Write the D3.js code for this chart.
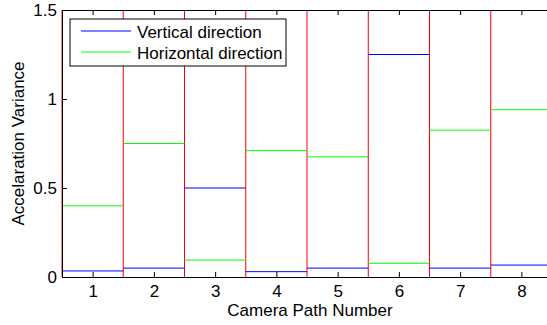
<!DOCTYPE html>
<html>
<head>
<meta charset="utf-8">
<script src="https://cdn.jsdelivr.net/npm/d3@7"></script>
<style>
  body { margin: 0; background: #fff; }
  text { font-family: "Liberation Sans", Arial, sans-serif; }
</style>
</head>
<body>
<div id="chart"></div>
<script>
// data
var paths = [1, 2, 3, 4, 5, 6, 7, 8];
var vertical = [0.034, 0.05, 0.5, 0.03, 0.05, 1.25, 0.05, 0.067];
var horizontal = [0.40, 0.75, 0.095, 0.71, 0.675, 0.077, 0.825, 0.94];
var yTicks = [0, 0.5, 1, 1.5];
var seriesNames = ["Vertical direction", "Horizontal direction"];

var width = 547, height = 325;
var plotLeft = 62, plotTop = 10, plotBottom = 277, plotRight = 552;
var fs = 17;

var x = d3.scaleLinear().domain([0.5, 8.5]).range([plotLeft, plotRight]);
var y = d3.scaleLinear().domain([0, 1.5]).range([plotBottom, plotTop]);

var svg = d3.select("#chart").append("svg").attr("width", width).attr("height", height);

var plot = svg.append("g");

// red bin edges
var edges = paths.map(function(d) { return d - 0.5; });
plot.selectAll(".edge").data(edges).enter().append("line")
    .attr("x1", function(d) { return x(d); })
    .attr("x2", function(d) { return x(d); })
    .attr("y1", y(0)).attr("y2", y(1.5))
    .attr("stroke", "#ff0000").attr("stroke-width", 1);

// stair segments
function drawSeries(values, color) {
    plot.selectAll(null).data(values).enter().append("line")
        .attr("x1", function(d, i) { return x(paths[i] - 0.5); })
        .attr("x2", function(d, i) { return x(paths[i] + 0.5); })
        .attr("y1", function(d) { return y(d); })
        .attr("y2", function(d) { return y(d); })
        .attr("stroke", color).attr("stroke-width", 1);
}
drawSeries(horizontal, "#00ff00");
drawSeries(vertical, "#0000ff");

// axes (matlab style, ticks inward)
var xAxis = d3.axisBottom(x).tickValues(paths).tickSizeInner(-5).tickSizeOuter(0).tickPadding(8);
svg.append("g").attr("transform", "translate(0," + plotBottom + ")").call(xAxis);
var xTop = d3.axisTop(x).tickValues(paths).tickSizeInner(-5).tickSizeOuter(0).tickFormat("");
svg.append("g").attr("transform", "translate(0," + plotTop + ")").call(xTop);
var yAxis = d3.axisLeft(y).tickValues(yTicks).tickSizeInner(-5).tickSizeOuter(0).tickPadding(5)
    .tickFormat(function(d) { return d; });
svg.append("g").attr("transform", "translate(" + plotLeft + ",0)").call(yAxis);

svg.selectAll(".domain").attr("stroke", "#000");
svg.selectAll(".tick line").attr("stroke", "#000");
svg.selectAll(".tick text").attr("font-size", fs).attr("fill", "#000")
    .style("font-family", "'Liberation Sans', Arial, sans-serif");

// axis labels
svg.append("text").attr("x", 310).attr("y", 316).attr("text-anchor", "middle")
    .attr("font-size", fs).text("Camera Path Number");
svg.append("text").attr("transform", "translate(24," + ((plotTop + plotBottom) / 2) + ") rotate(-90)")
    .attr("text-anchor", "middle").attr("font-size", fs).text("Accelaration Variance");

// legend
var legend = svg.append("g").attr("transform", "translate(70,19)");
legend.append("rect").attr("width", 216).attr("height", 47)
    .attr("fill", "#fff").attr("stroke", "#000");
var legendColors = ["#0000ff", "#00ff00"];
seriesNames.forEach(function(name, i) {
    var yy = 12 + i * 21;
    legend.append("line").attr("x1", 11).attr("x2", 61).attr("y1", yy).attr("y2", yy)
        .attr("stroke", legendColors[i]);
    legend.append("text").attr("x", 67).attr("y", yy + 7).attr("font-size", fs).text(name);
});
</script>
</body>
</html>
